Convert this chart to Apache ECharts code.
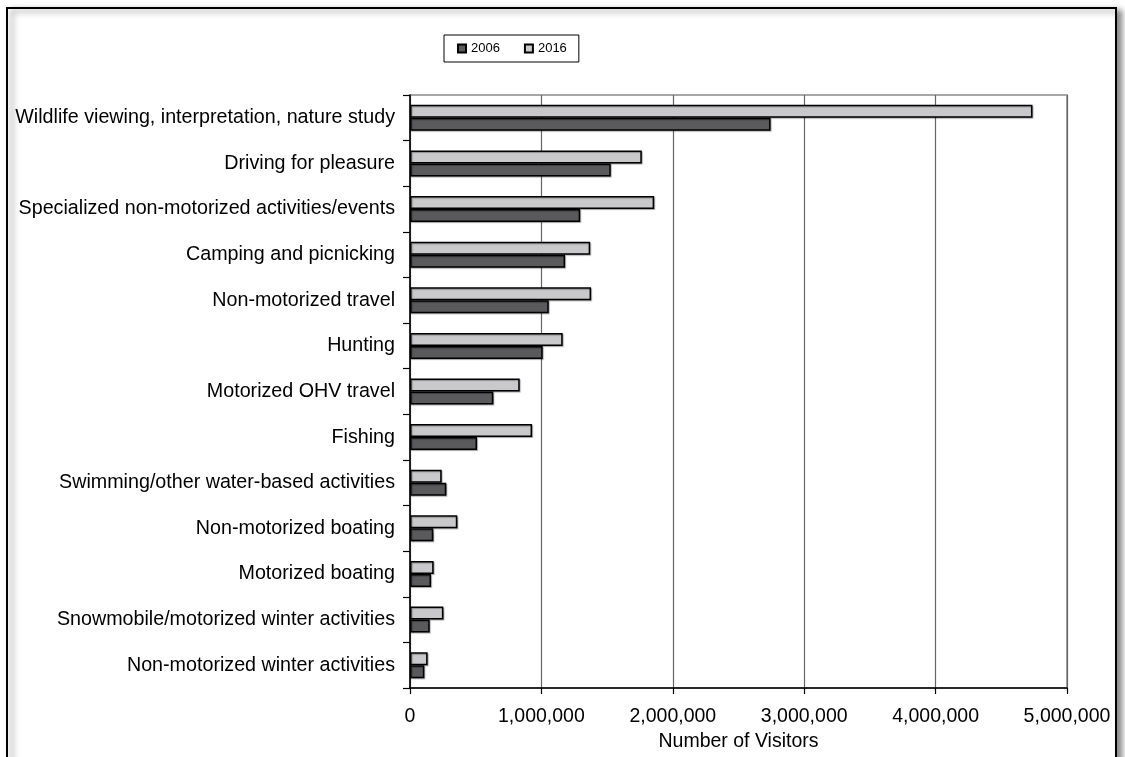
<!DOCTYPE html>
<html>
<head>
<meta charset="utf-8">
<title>Number of Visitors by Activity, 2006 and 2016</title>
<script src="https://cdn.jsdelivr.net/npm/echarts@6/dist/echarts.min.js"></script>
<style>
  html, body { margin: 0; padding: 0; background: #ffffff; }
  #chart { width: 1125px; height: 757px; }
</style>
</head>
<body>
<div id="chart"></div>
<script>
// Activities, listed top to bottom
const categories = [
  'Wildlife viewing, interpretation, nature study',
  'Driving for pleasure',
  'Specialized non-motorized activities/events',
  'Camping and picnicking',
  'Non-motorized travel',
  'Hunting',
  'Motorized OHV travel',
  'Fishing',
  'Swimming/other water-based activities',
  'Non-motorized boating',
  'Motorized boating',
  'Snowmobile/motorized winter activities',
  'Non-motorized winter activities'
];

// Visitors per activity
const visitors2006 = [2744000, 1528000, 1295000, 1180000, 1056000, 1010000, 634000, 510000, 276000, 177000, 160000, 150000, 109000];
const visitors2016 = [4737000, 1764000, 1858000, 1371000, 1378000, 1162000, 835000, 929000, 241000, 360000, 180000, 254000, 134000];

// Value axis ticks
const xTicks = [0, 1000000, 2000000, 3000000, 4000000, 5000000];

const FONT = '"Liberation Sans", Arial, sans-serif';

const chart = echarts.init(document.getElementById('chart'), null, { renderer: 'canvas' });

const barBase = {
  type: 'bar',
  barGap: '0%',
  barCategoryGap: '43%',
  emphasis: { disabled: true }
};

chart.setOption({
  animation: false,
  backgroundColor: '#ffffff',
  graphic: [{
    type: 'rect',
    z: -10,
    silent: true,
    shape: { x: 7, y: 8, width: 1109, height: 770 },
    style: {
      fill: '#ffffff',
      stroke: '#000000',
      lineWidth: 2,
      shadowColor: 'rgba(0,0,0,0.45)',
      shadowBlur: 6,
      shadowOffsetX: 5,
      shadowOffsetY: 3
    }
  }],
  legend: {
    data: ['2006', '2016'],
    left: 444,
    top: 35,
    orient: 'horizontal',
    itemWidth: 8,
    itemHeight: 8,
    itemGap: 24,
    icon: 'rect',
    padding: [7, 12, 7, 13],
    borderColor: '#000000',
    borderWidth: 1,
    backgroundColor: '#ffffff',
    textStyle: { fontFamily: FONT, fontSize: 13, color: '#000000' },
    selectedMode: false
  },
  grid: {
    left: 410,
    right: 58,
    top: 95,
    bottom: 68.5,
    show: true,
    borderColor: '#a6a6a6',
    borderWidth: 2,
    backgroundColor: 'transparent'
  },
  xAxis: {
    type: 'value',
    min: xTicks[0],
    max: xTicks[xTicks.length - 1],
    interval: xTicks[1] - xTicks[0],
    name: 'Number of Visitors',
    nameLocation: 'middle',
    nameGap: 44,
    nameTextStyle: { fontFamily: FONT, fontSize: 19.5, color: '#000000' },
    axisLine: { show: true, lineStyle: { color: '#000000', width: 1.5 } },
    axisTick: { show: true, length: 6, lineStyle: { color: '#000000', width: 1.2 } },
    axisLabel: {
      margin: 19,
      fontFamily: FONT,
      fontSize: 19.5,
      color: '#000000',
      formatter: v => v.toLocaleString('en-US')
    },
    splitLine: { show: true, lineStyle: { color: '#666666', width: 1.2 } }
  },
  yAxis: {
    type: 'category',
    data: categories,
    inverse: true,
    axisLine: { show: true, lineStyle: { color: '#000000', width: 1.5 } },
    axisTick: { show: true, length: 7, lineStyle: { color: '#000000', width: 1.2 } },
    axisLabel: {
      margin: 15,
      fontFamily: FONT,
      fontSize: 19.7,
      color: '#000000'
    },
    splitLine: { show: false }
  },
  series: [
    Object.assign({}, barBase, {
      name: '2016',
      data: visitors2016,
      itemStyle: {
        color: '#c9c9cb',
        borderColor: '#000000',
        borderWidth: 1.5,
        shadowColor: 'rgba(0,0,0,0.3)',
        shadowOffsetX: 1,
        shadowOffsetY: 1,
        shadowBlur: 1
      }
    }),
    Object.assign({}, barBase, {
      name: '2006',
      data: visitors2006,
      itemStyle: {
        color: '#5a5a5c',
        borderColor: '#000000',
        borderWidth: 1.5,
        shadowColor: 'rgba(0,0,0,0.3)',
        shadowOffsetX: 1,
        shadowOffsetY: 1,
        shadowBlur: 1
      }
    })
  ]
});
</script>
</body>
</html>
